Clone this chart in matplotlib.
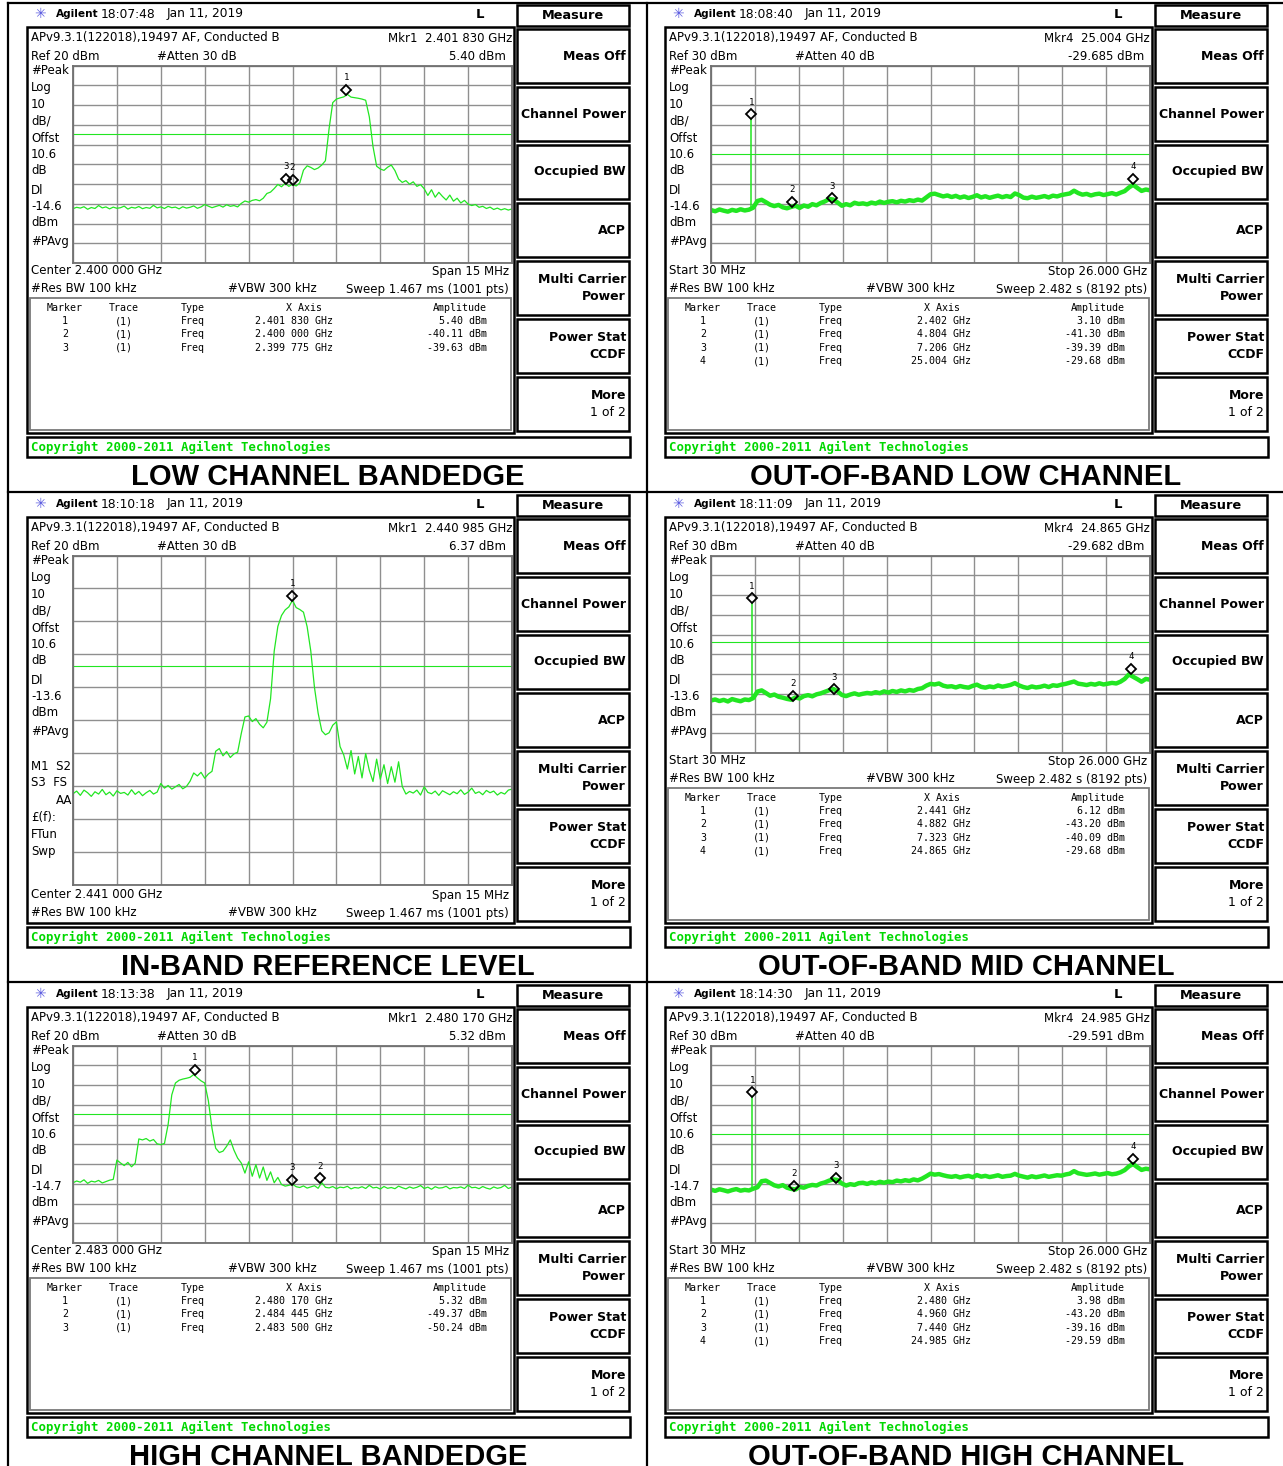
import numpy as np
import matplotlib.pyplot as plt
from matplotlib.patches import Rectangle
from matplotlib.transforms import offset_copy

# six spectrum analyzer screens
captions = ['LOW CHANNEL BANDEDGE', 'OUT-OF-BAND LOW CHANNEL',
            'IN-BAND REFERENCE LEVEL', 'OUT-OF-BAND MID CHANNEL',
            'HIGH CHANNEL BANDEDGE', 'OUT-OF-BAND HIGH CHANNEL']
times = ['18:07:48', '18:08:40', '18:10:18', '18:11:09', '18:13:38', '18:14:30']
ref_levels = [20, 30, 20, 30, 20, 30]
attens = [30, 40, 30, 40, 30, 40]
display_lines = [-14.6, -14.6, -13.6, -13.6, -14.7, -14.7]
active_mkr = ['Mkr1  2.401 830 GHz', 'Mkr4  25.004 GHz', 'Mkr1  2.440 985 GHz',
              'Mkr4  24.865 GHz', 'Mkr1  2.480 170 GHz', 'Mkr4  24.985 GHz']
active_amp = ['5.40 dBm', '-29.685 dBm', '6.37 dBm', '-29.682 dBm', '5.32 dBm', '-29.591 dBm']
centers_mhz = [2400.0, None, 2441.0, None, 2483.5, None]
span_mhz = 15.0
oob_start_ghz, oob_stop_ghz = 0.03, 26.0

# marker tables (MHz for band-edge screens, GHz for out-of-band screens)
mkr_freq = [[2401.830, 2400.000, 2399.775],
            [2.402, 4.804, 7.206, 25.004],
            [2440.985],
            [2.441, 4.882, 7.323, 24.865],
            [2480.170, 2484.445, 2483.500],
            [2.480, 4.960, 7.440, 24.985]]
mkr_amp = [[5.40, -40.11, -39.63],
           [3.10, -41.30, -39.39, -29.68],
           [6.37],
           [6.12, -43.20, -40.09, -29.68],
           [5.32, -49.37, -50.24],
           [3.98, -43.20, -39.16, -29.59]]

# traces (dBm), evenly spread across each sweep
trace_low = [
    -52.5, -51.8, -52.2, -51.5, -52.8, -51.9, -52.4, -50.9, -52.1, -51.6,
    -52.6, -51.7, -52.3, -52.0, -51.2, -52.7, -51.8, -52.2, -51.4, -52.5,
    -51.9, -52.3, -50.8, -52.1, -51.6, -52.4, -51.3, -52.0, -51.7, -52.6,
    -51.5, -52.2, -51.8, -51.1, -52.3, -51.6, -50.4, -51.2, -52.0, -51.4,
    -50.8, -51.7, -50.5, -51.3, -50.9, -51.6,
    -49.8, -48.6, -49.2, -48.3, -47.9, -48.5, -47.2, -44.8, -44.1,
    -42.3, -40.2, -41.4, -39.6, -41.2, -40.1, -41.0, -39.4, -33.0, -30.8,
    -31.6, -32.7, -31.9, -30.4, -28.2, -12.0, 1.2, 3.0, 3.6, 4.1,
    5.4, 4.0, 3.7, 3.4, 3.0, 2.4, -6.0, -21.0, -31.0, -32.4,
    -33.1, -31.5, -30.4, -33.2, -37.5, -39.2, -38.3, -40.1, -38.9, -41.2,
    -40.3, -42.4, -45.8, -42.9, -46.7, -44.2, -46.3, -48.1, -45.6, -48.7,
    -47.2, -49.6, -48.3, -50.2, -50.9, -50.4, -51.8, -51.3, -52.4, -51.7,
    -52.9, -52.2, -53.1, -52.5, -53.2, -52.6]

trace_mid = [
    -52.3, -51.5, -52.8, -51.2, -52.0, -53.1, -51.7, -52.4, -51.0, -52.6,
    -51.8, -53.0, -51.4, -52.2, -51.9, -52.7, -51.1, -52.5, -51.6, -52.9,
    -52.0, -51.3, -52.4, -51.8,
    -49.2, -50.6, -49.8, -50.9, -50.2, -49.5, -50.8, -50.1,
    -48.5, -46.0, -46.9, -45.8, -47.6, -46.3, -45.5,
    -39.4, -38.6, -40.8, -39.5, -41.3, -40.2, -39.7, -34.0,
    -29.0, -28.7, -30.4, -29.5, -31.2, -32.3, -30.6,
    -23.5, -9.0, -1.5, 1.8, 3.5, 4.4, 6.4, 4.2, 3.6, 2.8,
    -1.6, -9.0, -20.0, -27.8, -33.2, -34.4, -33.8, -31.5, -30.5, -38.0,
    -40.5, -44.8, -39.2, -46.3, -41.0, -47.5, -40.1, -45.2, -48.6, -41.8,
    -47.9, -43.5, -49.2, -44.1, -48.8, -42.6, -50.1,
    -52.4, -51.6, -52.1, -51.2, -52.7, -50.2, -51.9, -52.3, -51.5, -52.8,
    -51.4, -52.0, -52.6, -51.7, -52.3, -51.1, -52.5, -51.8, -50.6, -52.2,
    -51.7, -52.6, -51.3, -52.0, -51.5, -52.7, -51.9, -52.4, -51.2, -50.9]

trace_high = [
    -49.5, -48.6, -49.2, -48.0, -49.8, -48.7, -49.1, -48.3, -49.6, -48.9,
    -48.2, -47.8,
    -38.0, -39.5, -40.8, -39.2, -41.4, -39.6,
    -27.3, -27.8, -27.1, -28.4, -27.6, -29.8, -30.2, -29.6,
    -20.0, -5.0, 1.0, 2.4, 3.0, 3.4, 3.9, 5.3, 3.6, 2.1,
    1.0, -8.0, -22.0, -32.0, -34.2, -33.5, -31.0, -27.8, -33.0, -37.0,
    -39.5, -44.6, -38.9, -46.2, -40.3, -47.1, -41.5, -48.3, -44.0, -49.5,
    -46.8,
    -50.4, -51.2, -50.8, -50.2, -51.5, -51.9, -51.1, -52.2, -51.6, -51.0,
    -52.3, -49.4, -51.8, -52.1, -51.4, -52.5, -51.7, -52.0, -51.3, -52.6,
    -51.9, -52.2, -51.5, -52.4, -50.8, -52.1, -51.8, -52.7, -51.4, -52.3,
    -51.9, -52.5, -51.2, -52.0, -52.6, -51.6, -52.3, -51.8, -50.9, -52.4,
    -51.7, -52.8, -51.5, -52.2, -52.0, -51.3, -52.6, -51.9, -52.1, -51.6,
    -52.4, -50.7, -52.0, -51.8, -52.5, -51.4, -52.2, -52.7, -51.6, -52.3,
    -51.9, -50.8, -52.4, -51.7]

oob_low = [
    -43.2, -43.8, -42.9, -43.5, -44.0, -43.1, -43.6, -42.8, -43.4, -43.0,
    -42.0, -38.6, -38.0, -39.2, -40.5, -41.2, -40.6, -41.8, -42.3, -41.6,
    -41.0, -42.1, -40.9, -41.5, -40.2, -40.8, -39.6, -38.8, -37.6, -37.9,
    -39.4, -41.0, -40.2, -40.8, -39.5, -40.1, -39.8, -40.3, -39.4, -39.9,
    -38.9, -39.6, -39.0, -38.7, -39.3, -38.5, -38.9, -38.2, -38.6, -37.9,
    -38.4, -36.8, -35.2, -34.9, -35.6, -36.3, -35.8, -36.6, -36.0, -36.9,
    -36.3, -37.1, -36.5, -35.7, -36.8, -36.2, -37.0, -36.4, -35.9, -36.7,
    -36.1, -36.6, -34.8, -35.6, -36.9, -37.2, -36.4, -37.0, -36.6, -36.1,
    -36.8, -35.9, -36.3, -35.6, -35.2, -34.8, -33.4, -34.6, -35.4, -35.0,
    -35.8, -35.2, -34.9, -35.6, -35.1, -34.6, -35.3, -34.4, -33.6, -31.8,
    -30.4, -32.0, -33.5, -32.8, -33.2]

oob_mid = [
    -43.4, -42.9, -43.7, -43.1, -43.9, -42.7, -43.3, -43.8, -42.9, -43.2,
    -42.2, -38.9, -38.3, -39.6, -41.0, -40.4, -41.5, -42.0, -42.6, -43.0,
    -41.9, -42.4, -41.2, -40.7, -41.3, -40.3, -39.8, -39.0, -38.2, -37.6,
    -38.8, -40.6, -41.2, -40.4, -39.8, -40.5, -40.0, -39.6, -39.9, -39.2,
    -39.7, -38.8, -39.4, -38.6, -39.1, -38.3, -38.8, -38.1, -38.5, -37.6,
    -37.2, -35.9, -35.0, -35.3, -34.8, -35.9, -36.4, -36.2, -36.8, -36.1,
    -36.6, -36.9, -36.0, -35.4, -36.5, -36.9, -36.3, -36.7, -35.8, -36.4,
    -36.0, -35.5, -34.6, -35.8, -36.6, -37.1, -36.3, -36.8, -36.5, -35.9,
    -36.6, -35.7, -36.0, -35.4, -35.0, -34.4, -33.8, -34.9, -35.2, -35.6,
    -35.0, -35.4, -34.7, -35.3, -34.9, -34.5, -34.8, -33.9, -32.5, -30.2,
    -31.4, -32.6, -33.9, -32.5, -32.9]

oob_high = [
    -43.0, -43.6, -42.8, -43.3, -43.9, -43.2, -42.7, -43.5, -43.1, -43.4,
    -42.5, -41.8, -38.7, -38.4, -39.6, -40.8, -41.4, -40.7, -42.0, -42.6,
    -42.9, -41.6, -42.0, -41.1, -40.6, -40.9, -39.9, -39.3, -38.4, -37.8,
    -38.1, -39.9, -40.9, -40.2, -40.6, -39.7, -39.5, -40.1, -39.3, -39.8,
    -39.0, -39.5, -38.9, -39.2, -38.4, -38.8, -38.2, -38.6, -37.8, -38.3,
    -37.4, -36.2, -34.9, -35.4, -35.1, -35.7, -36.2, -36.5, -36.1, -36.8,
    -36.3, -36.0, -36.7, -35.6, -36.4, -36.0, -36.6, -36.2, -35.7, -36.5,
    -36.1, -35.9, -35.0, -35.9, -36.4, -36.9, -36.2, -36.7, -36.3, -35.8,
    -36.5, -36.1, -35.7, -35.9, -35.3, -34.9, -33.6, -34.7, -35.1, -35.5,
    -35.2, -34.8, -35.4, -35.0, -34.6, -35.2, -34.9, -34.2, -33.1, -31.2,
    -30.0, -31.6, -33.0, -32.4, -32.7]

traces = [trace_low, oob_low, trace_mid, oob_mid, trace_high, oob_high]

buttons = [['Meas Off'], ['Channel Power'], ['Occupied BW'], ['ACP'],
           ['Multi Carrier', 'Power'], ['Power Stat', 'CCDF'], ['More', '1 of 2']]
side_labels = ['#Peak', 'Log', '10', 'dB/', 'Offst', '10.6', 'dB', 'Dl', None, 'dBm', '#PAvg']
side_y = [71, 88, 104, 121, 138, 154, 170, 190, 206, 222, 241]
extra_labels = [('M1  S2', 276), ('S3  FS', 293), ('AA', 310), ('£(f):', 328), ('FTun', 345), ('Swp', 362)]

W, H = 1283, 1466
GREEN = '#22e622'
plt.rcParams['font.family'] = 'DejaVu Sans'

fig = plt.figure(figsize=(W / 100, H / 100), dpi=100)
base = fig.add_axes([0, 0, 1, 1])
base.set_xlim(0, W)
base.set_ylim(H, 0)
base.axis('off')

# table cell borders of the report page
for x in (8, 647):
    base.plot([x, x], [3, H], color='black', lw=1.6)
for y in (3, 492, 982):
    base.plot([8, W], [y, y], color='black', lw=1.6)


def fmt_mhz(f):
    s = '%.6f' % (f / 1000)
    return s[:5] + ' ' + s[5:] + ' GHz'


def draw_panel(k, dx, dy):
    oob = k % 2 == 1
    tall = k == 2
    ref = ref_levels[k]

    def T(x, y, s, **kw):
        kw.setdefault('va', 'center')
        kw.setdefault('fontsize', 8.5)
        base.text(dx + x, dy + y, s, **kw)

    def R(x0, y0, x1, y1, lw=1.5, ec='black'):
        base.add_patch(Rectangle((dx + x0, dy + y0), x1 - x0, y1 - y0,
                                 lw=lw, ec=ec, fc='none'))

    # header bar
    T(40, 14, '✳', color='#5a5ae0', fontsize=10, ha='center')
    T(56, 14, 'Agilent', fontweight='bold', fontsize=7.6)
    T(101, 14, times[k], fontsize=8.8)
    T(167, 14, 'Jan 11, 2019', fontsize=8.8)
    T(480, 14, 'L', fontweight='bold', fontsize=9.5, ha='center')
    R(517, 5, 629, 26, lw=1.8)
    T(573, 15.5, 'Measure', fontweight='bold', fontsize=9.3, ha='center')

    # softkey column
    for i, lab in enumerate(buttons):
        top = 29 + 58 * i
        R(517, top, 629, top + 54, lw=1.8)
        cy = top + 27
        if len(lab) == 1:
            T(626, cy, lab[0], fontweight='bold', fontsize=9.0, ha='right')
        else:
            T(626, cy - 8.5, lab[0], fontweight='bold', fontsize=9.0, ha='right')
            T(626, cy + 8.5, lab[1], fontsize=9.0, ha='right',
              fontweight='normal' if lab[0] == 'More' else 'bold')

    # screen
    R(27, 27, 514, 433, lw=1.8)
    T(31, 38, 'APv9.3.1(122018),19497 AF, Conducted B')
    T(512, 38, active_mkr[k], ha='right')
    T(31, 56, 'Ref %d dBm' % ref)
    T(157, 56, '#Atten %d dB' % attens[k])
    T(506, 56, active_amp[k], ha='right')
    for s, y in zip(side_labels, side_y):
        T(31, y, s if s else '%.1f' % display_lines[k])
    if tall:
        for s, y in extra_labels:
            T(72 if s == 'AA' else 31, y, s, ha='right' if s == 'AA' else 'left')

    ty = 405 if tall else 271
    if oob:
        T(31, ty, 'Start 30 MHz')
        T(509, ty, 'Stop 26.000 GHz', ha='right')
        T(509, ty + 18, 'Sweep 2.482 s (8192 pts)', ha='right')
    else:
        T(31, ty, 'Center %.3f 000 GHz' % (centers_mhz[k] / 1000))
        T(509, ty, 'Span 15 MHz', ha='right')
        T(509, ty + 18, 'Sweep 1.467 ms (1001 pts)', ha='right')
    T(31, ty + 18, '#Res BW 100 kHz')
    T(228, ty + 18, '#VBW 300 kHz')

    # marker table
    if not tall:
        R(30, 298, 511, 430, lw=1.3, ec='#7a7a7a')
        tk = dict(family='DejaVu Sans Mono', fontsize=7.2)
        T(65, 308, 'Marker', ha='center', **tk)
        T(124, 308, 'Trace', ha='center', **tk)
        T(181, 308, 'Type', **tk)
        T(304, 308, 'X Axis', ha='center', **tk)
        T(487, 308, 'Amplitude', ha='right', **tk)
        for j, (f, a) in enumerate(zip(mkr_freq[k], mkr_amp[k])):
            y = 321 + 13.4 * j
            T(65, y, str(j + 1), ha='center', **tk)
            T(124, y, '(1)', ha='center', **tk)
            T(181, y, 'Freq', **tk)
            T(333, y, '%.3f GHz' % f if oob else fmt_mhz(f), ha='right', **tk)
            T(487, y, '%.2f dBm' % a, ha='right', **tk)

    # copyright bar and caption
    R(27, 437, 630, 457, lw=1.8)
    T(31, 447.5, 'Copyright 2000-2011 Agilent Technologies', color='#00d800',
      fontweight='bold', family='DejaVu Sans Mono', fontsize=8.9)
    T(328, 477, captions[k], ha='center',
      family='Liberation Sans', fontweight='bold', fontsize=21)

    # graticule with trace
    gx0, gx1, gy0, gy1 = dx + 73, dx + 512, dy + 65.5, dy + (395 if tall else 263)
    ax = fig.add_axes([gx0 / W, 1 - gy1 / H, (gx1 - gx0) / W, (gy1 - gy0) / H])
    if oob:
        lo, hi = oob_start_ghz, oob_stop_ghz
    else:
        lo, hi = centers_mhz[k] - span_mhz / 2, centers_mhz[k] + span_mhz / 2
    tr = traces[k]
    freqs = np.linspace(lo, hi, len(tr))
    ax.axhline(display_lines[k], color=GREEN, lw=0.8)
    if oob:
        ax.plot(freqs, tr, color=GREEN, lw=3.2)
        f1 = mkr_freq[k][0]
        ax.plot([f1, f1], [np.interp(f1, freqs, tr), mkr_amp[k][0]], color=GREEN, lw=1.1)
    else:
        ax.plot(freqs, tr, color=GREEN, lw=0.9)
    dia = offset_copy(ax.transData, fig=fig, y=4.5, units='dots')
    num = offset_copy(ax.transData, fig=fig, y=16.5, units='dots')
    for j, (f, a) in enumerate(zip(mkr_freq[k], mkr_amp[k])):
        ax.plot(f, a, 'D', ms=5, mfc='none', mec='black', mew=1.3, transform=dia)
        ax.text(f, a, str(j + 1), transform=num, ha='center', va='center',
                fontsize=6.5, family='DejaVu Sans Mono')
    ax.set_xlim(lo, hi)
    ax.set_ylim(ref - 100, ref)
    ax.set_xticks(np.linspace(lo, hi, 11))
    ax.set_yticks(np.arange(ref - 100, ref + 1, 10))
    ax.grid(True, color='#8f8f8f', lw=1.0)
    ax.set_axisbelow(True)
    ax.tick_params(length=0, labelbottom=False, labelleft=False)
    for s in ax.spines.values():
        s.set_color('#6f6f6f')
        s.set_linewidth(1.3)


for k in range(6):
    draw_panel(k, 638 * (k % 2), 490 * (k // 2))

fig.savefig('out.png', dpi=100)
